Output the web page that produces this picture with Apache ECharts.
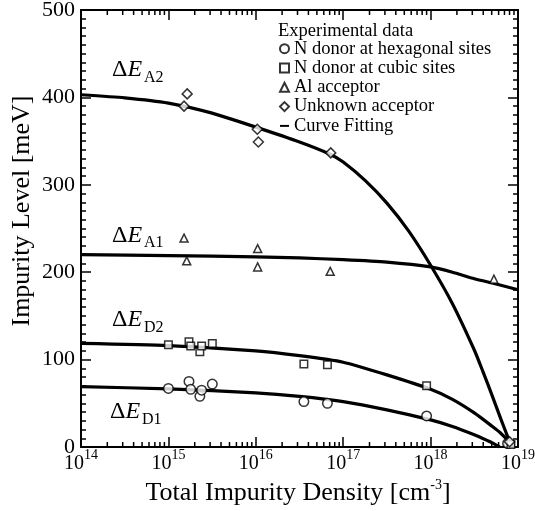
<!DOCTYPE html>
<html><head><meta charset="utf-8">
<script src="https://cdn.jsdelivr.net/npm/echarts@6/dist/echarts.min.js"></script>
<style>html,body{margin:0;padding:0;background:#fff}#c{width:535px;height:511px}</style>
</head><body><div id="c"></div>
<script>
// ---- data ----
const hexX = [1.0e15, 1.72e15, 1.8e15, 2.29e15, 2.4e15, 3.18e15, 3.55e16, 6.6e16, 9.0e17, 7.6e18];
const hexY = [67, 75, 66, 58, 65, 72, 52, 50, 35.5, 4];
const cubX = [1.0e15, 1.72e15, 1.8e15, 2.29e15, 2.4e15, 3.18e15, 3.55e16, 6.6e16, 9.0e17, 8.3e18];
const cubY = [117, 120.5, 115.5, 109, 115.5, 118.5, 95, 94, 70, 3];
const alX = [1.51e15, 1.62e15, 1.05e16, 1.05e16, 7.1e16, 5.3e18];
const alY = [239, 213, 227, 206, 201, 192];
const unkX = [1.51e15, 1.64e15, 1.04e16, 1.07e16, 7.2e16, 8.0e18];
const unkY = [390, 404, 363.5, 349, 336.5, 6];

// fitted curves, read at positions given as log10 of density
const fitA2Exp = [14, 14.5, 15, 15.5, 16, 16.5, 16.85, 17, 17.25, 17.5, 17.75, 18, 18.25, 18.5, 18.6, 18.7, 18.8, 18.9, 18.93];
const fitA2Y   = [403, 399.5, 393.5, 382, 366, 349, 335, 326, 305, 279, 247, 208, 164, 111, 86, 60, 33, 7, 0];
const fitA1Exp = [14, 15, 16, 16.5, 17, 17.5, 18, 18.25, 18.5, 18.75, 19];
const fitA1Y   = [220, 219, 217.5, 216.3, 214.3, 211.5, 206, 200, 192.5, 186.5, 180];
const fitD2Exp = [14, 15, 16, 16.5, 17, 17.5, 18, 18.25, 18.5, 18.7, 18.8, 18.9, 18.93];
const fitD2Y   = [118.5, 116, 110, 104.5, 97, 82.5, 66, 54.5, 39, 24, 16, 5.5, 0];
const fitD1Exp = [14, 15, 16, 16.5, 17, 17.5, 18, 18.25, 18.5, 18.6, 18.7, 18.79];
const fitD1Y   = [69, 66.5, 62, 58, 52, 42.5, 31, 23.5, 14, 9.6, 5, 0];

const yTickStep = 100;
const minorMults = [2, 3, 4, 5, 6, 7, 8, 9];
const decadeExps = [14, 15, 16, 17, 18];

const legendNames = ['N donor at hexagonal sites', 'N donor at cubic sites', 'Al acceptor', 'Unknown acceptor', 'Curve Fitting'];
const levelLabels = [
  {sub: 'A2', x: 112, y: 70, sy: 78},
  {sub: 'A1', x: 112, y: 235.5, sy: 243},
  {sub: 'D2', x: 112, y: 320, sy: 328},
  {sub: 'D1', x: 110, y: 412, sy: 420}
];

// ---- build ----
const FF = '"Liberation Serif", "Times New Roman", serif';
const zip = (xs, ys) => xs.map((x, i) => [x, ys[i]]);
const zipExp = (es, ys) => es.map((e, i) => [Math.pow(10, e), ys[i]]);
const minorX = [];
decadeExps.forEach(e => minorMults.forEach(m => minorX.push([m * Math.pow(10, e), 0])));

const ptStyle = {color: '#fff', borderColor: '#000', borderWidth: 1.5};
function scatter(name, sym, size, xs, ys) {
  return {name, type: 'scatter', symbol: sym, symbolSize: size, data: zip(xs, ys),
    itemStyle: ptStyle, z: 5, clip: false};
}
function fit(es, ys) {
  return {name: 'Curve Fitting', type: 'line', data: zipExp(es, ys), smooth: 0.2,
    showSymbol: false, symbol: 'none', lineStyle: {color: '#000', width: 3.2, join: 'round'}, itemStyle: {color: '#000'},
    z: 3, clip: true};
}

const axisLineS = {show: true, onZero: false, lineStyle: {color: '#000', width: 2}};
const tickS = {show: true, inside: true, length: 10, lineStyle: {color: '#000', width: 1.5}};
const minorS = {show: true, splitNumber: 10, length: 5, lineStyle: {color: '#000', width: 1.5}};

const graphic = [
  {type: 'text', x: 22.5, y: 211, rotation: Math.PI / 2,
    style: {text: 'Impurity Level [meV]', font: '26px ' + FF, fill: '#000', align: 'center', verticalAlign: 'middle'}},
  {type: 'text', x: 298, y: 493,
    style: {text: '{b|Total Impurity Density [cm}{s|-3}{b|]}', fill: '#000', align: 'center', verticalAlign: 'middle',
      rich: {b: {fontSize: 26, fontFamily: FF, lineHeight: 30, fill: '#000'},
             s: {fontSize: 14, fontFamily: FF, lineHeight: 14, verticalAlign: 'top', fill: '#000'}}}},
  {type: 'text', x: 278, y: 31.5,
    style: {text: 'Experimental data', font: '18.5px ' + FF, fill: '#000', align: 'left', verticalAlign: 'middle'}}
];
levelLabels.forEach(l => {
  graphic.push({type: 'text', x: l.x, y: l.y,
    style: {text: '{d|Δ}{e|E}', align: 'left', verticalAlign: 'middle',
      rich: {d: {fontSize: 24, fontFamily: FF, fill: '#000'},
             e: {fontSize: 24, fontFamily: FF, fontStyle: 'italic', fill: '#000'}}}});
  graphic.push({type: 'text', x: l.x + 32, y: l.sy,
    style: {text: l.sub, font: '16px ' + FF, fill: '#000', align: 'left', verticalAlign: 'middle'}});
});

const option = {
  animation: false,
  backgroundColor: '#fff',
  grid: {left: 81, top: 10, width: 437, height: 437, containLabel: false, outerBoundsMode: 'none'},
  legend: {
    orient: 'vertical', left: 279, top: 39.2, padding: 0, itemWidth: 9, itemHeight: 9, itemGap: 0.3,
    selectedMode: false,
    data: legendNames.slice(0, 4).concat([{name: 'Curve Fitting', icon: 'path://M0,0H12V2.6H0Z', itemStyle: {color: '#000', borderWidth: 0}}]),
    textStyle: {fontFamily: FF, fontSize: 18.5, color: '#000', lineHeight: 15}
  },
  xAxis: [
    {type: 'log', logBase: 10, min: 1e14, max: 1e19, position: 'bottom',
      axisLine: axisLineS, axisTick: tickS, splitLine: {show: false},
      axisLabel: {show: true, margin: 1.5, showMinLabel: true, showMaxLabel: true,
        formatter: v => '{b|10}{s|' + Math.round(Math.log10(v)) + '}',
        rich: {b: {fontSize: 20, fontFamily: FF, color: '#000', lineHeight: 30},
               s: {fontSize: 14, fontFamily: FF, color: '#000', lineHeight: 14, verticalAlign: 'top'}}}},
    {type: 'log', logBase: 10, min: 1e14, max: 1e19, position: 'top',
      axisLine: axisLineS, axisTick: tickS, splitLine: {show: false}, axisLabel: {show: false}}
  ],
  yAxis: [
    {type: 'value', min: 0, max: 500, interval: yTickStep, position: 'left',
      axisLine: axisLineS, axisTick: tickS, minorTick: minorS, splitLine: {show: false}, minorSplitLine: {show: false},
      axisLabel: {fontSize: 22, fontFamily: FF, color: '#000', margin: 6, showMinLabel: true, showMaxLabel: true}},
    {type: 'value', min: 0, max: 500, interval: yTickStep, position: 'right',
      axisLine: axisLineS, axisTick: tickS, minorTick: minorS, splitLine: {show: false}, minorSplitLine: {show: false},
      axisLabel: {show: false}}
  ],
  graphic: graphic,
  series: [
    fit(fitA2Exp, fitA2Y), fit(fitA1Exp, fitA1Y), fit(fitD2Exp, fitD2Y), fit(fitD1Exp, fitD1Y),
    scatter('N donor at hexagonal sites', 'circle', 9.5, hexX, hexY),
    scatter('N donor at cubic sites', 'rect', 7.5, cubX, cubY),
    scatter('Al acceptor', 'triangle', 8, alX, alY),
    scatter('Unknown acceptor', 'diamond', 10, unkX, unkY),
    {type: 'custom', silent: true, clip: false, data: minorX, encode: {x: 0, y: 1}, z: 4,
      renderItem: (params, api) => {
        const v = api.value(0);
        const pb = api.coord([v, 0]);
        const pt = api.coord([v, 500]);
        return {type: 'group', children: [
          {type: 'line', shape: {x1: pb[0], y1: pb[1], x2: pb[0], y2: pb[1] - 5}, style: {stroke: '#000', lineWidth: 1.5}},
          {type: 'line', shape: {x1: pt[0], y1: pt[1], x2: pt[0], y2: pt[1] + 5}, style: {stroke: '#000', lineWidth: 1.5}}
        ]};
      }}
  ]
};
const chart = echarts.init(document.getElementById('c'), null, {renderer: 'canvas'});
chart.setOption(option);
</script></body></html>
